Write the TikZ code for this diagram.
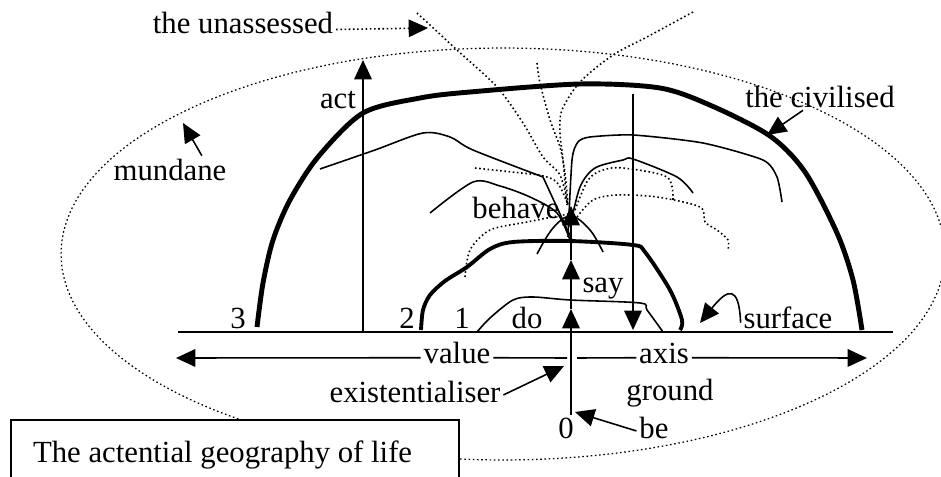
\documentclass[tikz,border=0pt]{standalone}
\usepackage{fontspec}
\setmainfont{Liberation Serif}
\usetikzlibrary{arrows.meta,positioning}
\definecolor{ink}{RGB}{0,0,0}
\tikzset{
  lbl/.style={font=\fontsize{17.5}{21}\selectfont,inner sep=1.5pt,anchor=base,text=ink},
  arr/.style={-{Triangle[length=11pt,width=10pt]},line width=0.9pt,ink},
  dotln/.style={line width=0.9pt,dash pattern=on 0.9pt off 1.5pt,ink},
  thinln/.style={line width=0.9pt,ink},
  thk/.style={line width=2.8pt,ink},
  titlebox/.style={draw=ink,line width=0.8pt,fill=white,font=\fontsize{17.5}{21}\selectfont,
    minimum width=8.96cm,minimum height=1.4cm,text width=8.08cm,inner xsep=0.44cm,align=flush left},
}

\begin{document}
\begin{tikzpicture}[x=0.02cm,y=-0.02cm]
  \useasboundingbox (0,0) rectangle (941,477);
  % the mundane
  \draw[dotln,line width=0.7pt] (503,254) ellipse [x radius=8.84cm,y radius=4.12cm];
  \node[titlebox] (title) at (235,455) {The actential geography of life};

  \node[lbl] (unassessed) at (243,33) {the unassessed};
  \node[lbl] (act) at (338,108) {act};
  \node[lbl] (mundane) at (170,180) {mundane};
  \node[lbl] (civilised) at (820,107) {the civilised};
  \node[lbl] (behave) at (516,218) {behave};
  \node[lbl] (say) at (603,292) {say};
  \node[lbl] (three) at (238,328) {3};
  \node[lbl] (two) at (407,328) {2};
  \node[lbl] (one) at (462,328) {1};
  \node[lbl] (do) at (527,328) {do};
  \node[lbl] (surface) at (788,328) {surface};
  \node[lbl] (value) at (457,363) {value};
  \node[lbl] (axis) at (664,363) {axis};
  \node[lbl] (exist) at (415,402) {existentialiser};
  \node[lbl] (ground) at (670,400) {ground};
  \node[lbl] (zero) at (566,438) {0};
  \node[lbl] (be) at (654,438) {be};

  \coordinate (sL) at (178,332); \coordinate (sR) at (893,332);
  \coordinate (vL) at (176,358); \coordinate (vR) at (867,358);
  \coordinate (gapL) at (567,358); \coordinate (gapR) at (577,358);
  \coordinate (doTip) at (571,309); \coordinate (sayTip) at (571,260);
  \coordinate (behTip) at (571,206);
  \coordinate (actFoot) at (363,332); \coordinate (actTip) at (363,60);
  \coordinate (downTop) at (633,94); \coordinate (downTip) at (633,330);
  \coordinate (unTip) at (428,28);
  \coordinate (mundTip) at (183,123);
  \coordinate (civTip) at (767,135);
  \coordinate (surfTip) at (700,323);
  \coordinate (exTip) at (564,366);
  \coordinate (beTip) at (575,412);

  % surface and value axis
  \draw[line width=1pt] (sL) -- (sR);
  \draw[arr] ([yshift=3pt]value.base west) -- (vL);
  \draw[thinln] ([yshift=3pt]value.base east) -- (gapL);
  \draw[thinln] (gapR) -- ([yshift=3pt]axis.base west);
  \draw[arr] ([yshift=3pt]axis.base east) -- (vR);

  % ground line up through do, say, behave
  \draw[arr] (doTip |- zero.north) -- (doTip);
  \draw[arr] (doTip) -- (sayTip);
  \draw[arr] (sayTip) -- (behTip);
  \draw[arr] (actFoot) -- (actTip);
  \draw[arr] (downTop) -- (downTip);

  % pointers
  \draw[dotln,-{Triangle[length=11pt,width=10pt]}] ([yshift=2pt]unassessed.base east) -- (unTip);
  \draw[arr] ([xshift=-0.55cm]mundane.north east) -- (mundTip);
  \draw[arr] ([xshift=-0.34cm]civilised.south) -- (civTip);
  \draw[arr] ([yshift=3pt]surface.base west) .. controls (739,285) and (728,288) .. (surfTip);
  \draw[arr] ([yshift=4pt]exist.base east) -- (exTip);
  \draw[arr] ([yshift=4pt]be.base west) -- (beTip);

  % levels 3, 2, 1
  \draw[thk] plot[smooth,tension=0.5] coordinates {(257,327) (263,283) (273,240) (290,200)
    (318,157) (363,113) (420,98) (470,92) (580,84) (660,88) (712,106) (770,136)
    (805,172) (837,233) (853,280) (862,330)};
  \draw[thk,line width=2.2pt] plot[smooth,tension=0.5] coordinates {(421,330) (423,310)
    (430,295) (445,281) (467,267) (490,249) (513,242) (570,241) (633,245) (645,252)
    (670,290) (682,320) (680,330)};
  \draw[thinln] plot[smooth,tension=0.5] coordinates {(477,332) (490,318) (513,300)
    (533,297) (570,300) (640,303) (647,310) (663,332)};

  % behaviour fan
  \draw[thinln] plot[smooth,tension=0.5] coordinates {(320,169) (375,150) (423,133)
    (450,137) (473,150) (543,177)} -- (572,240);
  \draw[thinln] plot[smooth,tension=0.5] coordinates {(430,213) (473,182) (500,186)
    (530,197) (557,213) (570,240)};
  \draw[thinln] plot[smooth,tension=0.4] coordinates {(568,237) (572,160) (578,142)
    (590,137) (633,135) (703,143) (763,160) (777,177) (782,202)};
  \draw[thinln] plot[smooth,tension=0.5] coordinates {(570,227) (580,187) (595,168)
    (623,160) (633,159) (677,177) (693,193)};
  \draw[thinln] plot[smooth,tension=0.6] coordinates {(537,254) (553,228) (571,216)
    (590,230) (603,252)};

  % unassessed fan
  \draw[dotln] plot[smooth,tension=0.5] coordinates {(417,13) (457,50) (497,87) (523,123)
    (543,157) (560,175) (568,205)};
  \draw[dotln] plot[smooth,tension=0.5] coordinates {(537,63) (540,83) (550,120) (560,147)
    (565,173) (568,205)};
  \draw[dotln] plot[smooth,tension=0.5] coordinates {(693,12) (647,37) (613,55) (580,82)
    (562,110) (560,133) (563,160) (567,205)};
  \draw[dotln] (475,168) -- (540,175) .. controls (558,180) .. (568,205);
  \draw[dotln] plot[smooth,tension=0.5] coordinates {(465,277) (470,250) (490,230)
    (527,222) (568,214)};
  \draw[dotln] plot[smooth,tension=0.5] coordinates {(577,217) (593,200) (617,195)
    (657,197) (700,207) (705,222) (717,230) (728,240) (728,250)};
  \draw[dotln] plot[smooth,tension=0.5] coordinates {(575,210) (588,180) (603,170)
    (623,168) (667,177) (673,200)};
\end{tikzpicture}
\end{document}
